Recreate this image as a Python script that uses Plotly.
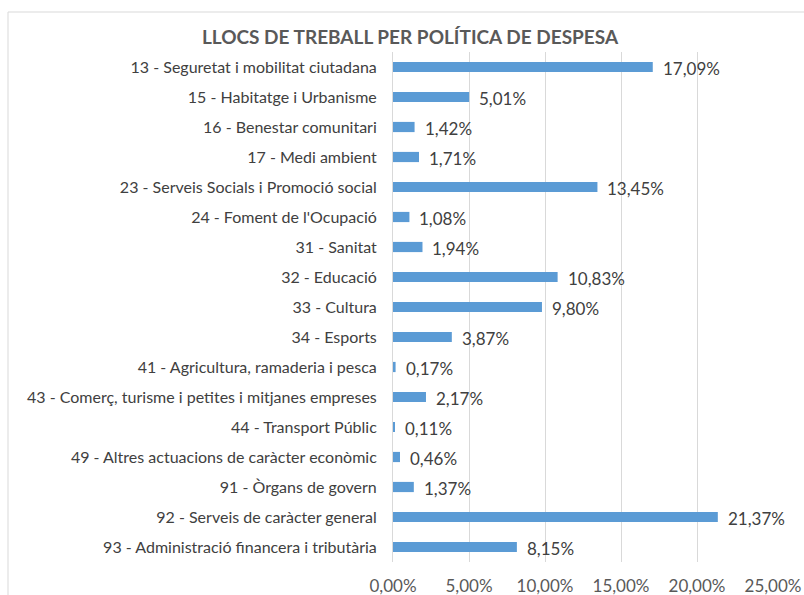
import plotly.graph_objects as go

title = "LLOCS DE TREBALL PER POLÍTICA DE DESPESA"
categories = [
    "13 - Seguretat i mobilitat ciutadana",
    "15 - Habitatge i Urbanisme",
    "16 - Benestar comunitari",
    "17 - Medi ambient",
    "23 - Serveis Socials i Promoció social",
    "24 - Foment de l'Ocupació",
    "31 - Sanitat",
    "32 - Educació",
    "33 - Cultura",
    "34 - Esports",
    "41 - Agricultura, ramaderia i pesca",
    "43 - Comerç, turisme i petites i mitjanes empreses",
    "44 - Transport Públic",
    "49 - Altres actuacions de caràcter econòmic",
    "91 - Òrgans de govern",
    "92 - Serveis de caràcter general",
    "93 - Administració financera i tributària",
]
values = [17.09, 5.01, 1.42, 1.71, 13.45, 1.08, 1.94, 10.83, 9.80, 3.87,
          0.17, 2.17, 0.11, 0.46, 1.37, 21.37, 8.15]
tick_values = [0, 5, 10, 15, 20, 25]
tick_labels = ["0,00%", "5,00%", "10,00%", "15,00%", "20,00%", "25,00%"]

W, H = 804, 595
L, R, T, B = 393, 31, 52, 33
FONT = "Lato"

fig = go.Figure()
fig.add_trace(go.Bar(
    x=values, y=categories, orientation="h",
    marker=dict(color="#5B9BD5", line=dict(width=0)),
    hoverinfo="x+y",
))

annotations = []
for c, v in zip(categories, values):
    annotations.append(dict(
        x=v, y=c, xref="x", yref="y",
        text=f"{v:.2f}".replace(".", ",") + "%",
        showarrow=False, xanchor="left", yanchor="middle",
        xshift=8, yshift=-1,
        font=dict(family=FONT, size=17, color="#404040"),
    ))

fig.update_layout(
    width=W, height=H,
    margin=dict(l=L, r=R, t=T, b=B, pad=0, autoexpand=False),
    paper_bgcolor="white", plot_bgcolor="white",
    showlegend=False,
    bargap=0.66,
    title=dict(text=f"<b>{title}</b>", x=(200 + 620) / 2 / W, xanchor="center",
               y=1 - 37 / H, yanchor="middle",
               font=dict(family=FONT, size=19, color="#595959")),
    annotations=annotations,
    shapes=[dict(type="rect", xref="paper", yref="paper",
                 x0=(8 - L) / (W - L - R), x1=(812 - L) / (W - L - R),
                 y0=(H - B - 610) / (H - T - B), y1=(H - B - 12) / (H - T - B),
                 line=dict(color="#D9D9D9", width=1), fillcolor="rgba(0,0,0,0)",
                 layer="below")],
    xaxis=dict(range=[0, 25], tickvals=tick_values, ticktext=tick_labels,
               showgrid=True, gridcolor="#D9D9D9", gridwidth=1,
               zeroline=False, showline=False, ticks="", automargin=False,
               ticklabelstandoff=12,
               tickfont=dict(family=FONT, size=17, color="#595959"),
               fixedrange=True),
    yaxis=dict(autorange="reversed", showgrid=False, zeroline=False,
               showline=True, linecolor="#D9D9D9", linewidth=1, ticks="",
               automargin=False, ticklabelstandoff=12,
               tickfont=dict(family=FONT, size=16, color="#404040"),
               fixedrange=True),
)

fig.write_html("out.html", config={"displayModeBar": False},
               post_script="document.body.style.margin='0';document.body.style.overflow='hidden';")
